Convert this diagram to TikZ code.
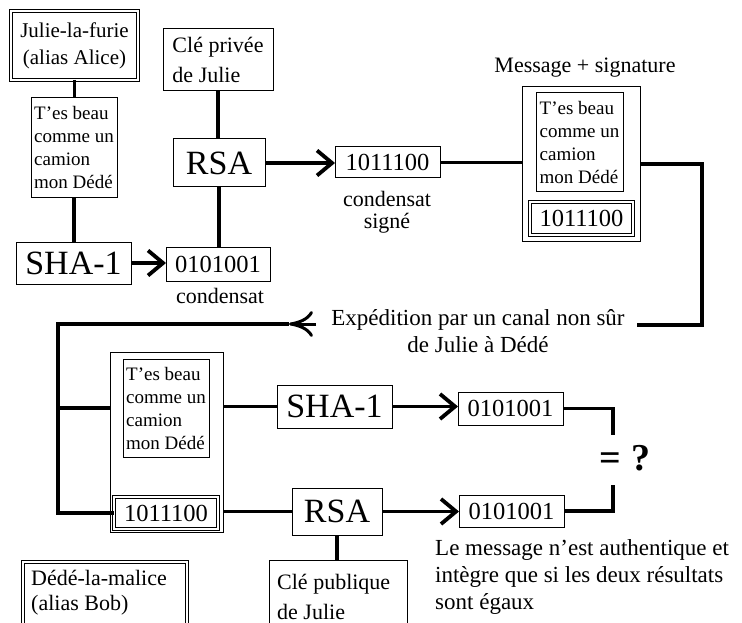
\documentclass[tikz,border=0pt]{standalone}
\usepackage{fontspec}
\setmainfont{Liberation Serif}
\usetikzlibrary{arrows.meta}
\newcommand\mySmall{\fontsize{19}{23}\selectfont}
\newcommand\myLab{\fontsize{22}{27}\selectfont}
\newcommand\myExp{\fontsize{23}{27}\selectfont}
\newcommand\myLabT{\fontsize{22}{22}\selectfont}
\newcommand\myJul{\fontsize{21}{27}\selectfont}
\newcommand\myCle{\fontsize{22}{30}\selectfont}
\newcommand\myDede{\fontsize{22}{25}\selectfont}
\newcommand\myNote{\fontsize{23}{27}\selectfont}
\newcommand\myBig{\fontsize{34}{40}\selectfont}
\newcommand\myDig{\fontsize{24.5}{28}\selectfont}
\newcommand\myEq{\fontsize{38}{40}\selectfont\bfseries}
\begin{document}
\begin{tikzpicture}[x=1pt,y=-1pt,
  box/.style={draw=black,line width=1pt,inner sep=0pt,outer sep=0pt},
  dbox/.style={box,double=white,double distance=1.4pt,line width=0.9pt},
  conn/.style={line width=3.8pt},
  chev/.style={conn,-{Straight Barb[length=15pt,width=25pt]}},
  lab/.style={inner sep=0pt,font=\myLab,align=center},
  small/.style={box,align=left,font=\mySmall},
  big/.style={box,font=\myBig},
  dig/.style={box,font=\myDig}]
\useasboundingbox (0,0) rectangle (742,623);
\clip (0,0) rectangle (742,623);
% --- top: Julie signs ---
\node[dbox,minimum width=127,minimum height=69,align=center,font=\myJul] (julie) at (74.5,45.5) {Julie-la-furie\\(alias Alice)};
\node[small,minimum width=86,minimum height=100] (msg1) at (74,148) {T'es beau\\comme un\\camion\\mon Dédé};
\node[big,minimum width=115,minimum height=42] (sha1) at (73.5,263) {SHA-1};
\node[dig,minimum width=104,minimum height=34] (d1) at (218,264) {0101001};
\node[lab] (cond) at (220,296) {condensat};
\node[box,minimum width=110,minimum height=62,align=left,font=\myCle] (cle) at (218,60) {Clé privée\\de Julie};
\node[big,minimum width=92,minimum height=48] (rsa1) at (219,163) {RSA};
\node[dig,minimum width=105,minimum height=31] (s1) at (387.5,162.5) {1011100};
\node[lab,font=\myLabT] (condsig) at (387,212) {condensat\\signé};
\node[lab] (msglab) at (585,68) {Message + signature};
\node[box,minimum width=118,minimum height=154] (outer1) at (581,164) {};
\node[small,minimum width=87,minimum height=99] (txt1) at (579.5,142.5) {T'es beau\\comme un\\camion\\mon Dédé};
\node[dbox,dig,minimum width=103,minimum height=33] (dig1) at (581.5,218.5) {1011100};
\node[lab,font=\myExp] (exp) at (478,331) {Expédition par un canal non sûr\\de Julie à Dédé};
% --- bottom: Dede verifies ---
\node[box,minimum width=113,minimum height=180] (outer2) at (166.5,442) {};
\node[small,minimum width=86,minimum height=98] (txt2) at (166,408) {T'es beau\\comme un\\camion\\mon Dédé};
\node[dbox,font=\myDig,minimum width=104,minimum height=32] (dig2) at (166,513) {1011100};
\node[big,minimum width=115,minimum height=43] (sha2) at (334.5,406.5) {SHA-1};
\node[dig,minimum width=105,minimum height=33] (d2) at (510.5,408.5) {0101001};
\node[big,minimum width=90,minimum height=47] (rsa2) at (337,511.5) {RSA};
\node[dig,minimum width=105,minimum height=32] (d3) at (511.5,511) {0101001};
\node[font=\myEq,inner sep=0pt] (eq) at (625,458) {= ?};
\node[box,minimum width=138,minimum height=80,anchor=north west] (pub) at (269,560) {};
\node[anchor=west,align=left,font=\myCle,inner sep=0pt] (pubtxt) at (277,597) {Clé publique\\de Julie};
\node[dbox,minimum width=164,minimum height=80,anchor=north west] (dede) at (23,562) {};
\node[anchor=west,align=left,font=\myDede,inner sep=0pt] (dedetxt) at (31,592.5) {Dédé-la-malice\\(alias Bob)};
\node[anchor=west,align=left,font=\myNote,inner sep=0pt] (note) at (435,577) {Le message n'est authentique et\\intègre que si les deux résultats\\sont égaux};
% --- connectors top ---
\draw[conn] (julie.south) -- (julie.south |- msg1.north);
\draw[conn] (msg1.south) -- (msg1.south |- sha1.north);
\draw[chev] (sha1.east) -- (d1.west |- sha1.east);
\draw[conn] (cle.south) -- (cle.south |- rsa1.north);
\draw[conn] (rsa1.south) -- (rsa1.south |- d1.north);
\draw[chev] (rsa1.east) -- (s1.west |- rsa1.east);
\draw[conn] (s1.east) -- (outer1.west |- s1.east);
\coordinate (rc1) at (702,164);
\coordinate (rc2) at (702,325);
\coordinate (rend) at (637,325);
\draw[conn] (outer1.east) -- (rc1) -- (rc2) -- (rend);
% --- expedition arrow ---
\coordinate (astart) at (316,324);
\coordinate (atip) at (289,324);
\coordinate (lc1) at (58,324);
\draw[line width=3pt,-{Computer Modern Rightarrow[length=24pt,width=26pt]}] (astart) -- (atip);
\draw[conn] (atip) -- (lc1) -- (lc1 |- dig2.west) -- (dig2.west);
\draw[conn] (lc1 |- txt2) -- (outer2.west |- txt2);
% --- connectors bottom ---
\draw[conn] (outer2.east |- sha2) -- (sha2.west);
\draw[chev] (sha2.east) -- (d2.west |- sha2.east);
\coordinate (q1) at (613,435);
\coordinate (q2) at (613,485);
\draw[conn] (d2.east) -| (q1);
\draw[conn] (d3.east) -| (q2);
\draw[conn] (outer2.east |- rsa2) -- (rsa2.west);
\draw[chev] (rsa2.east) -- (d3.west |- rsa2.east);
\draw[conn] (rsa2.south) -- (rsa2.south |- pub.north);
\end{tikzpicture}
\end{document}
